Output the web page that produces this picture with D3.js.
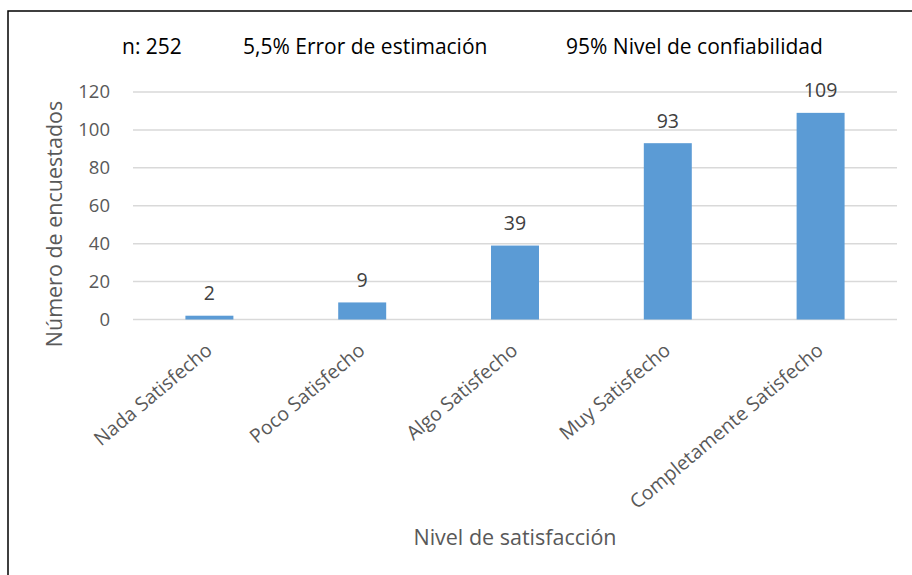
<!DOCTYPE html>
<html>
<head>
	<title>Nivel de satisfacción</title>
	<style type="text/css">
		body { margin: 0; background: #fff; }
		text { font-family: "Open Sans", sans-serif; }
	</style>
</head>
<body>
<svg id="chart"></svg>

<script src="https://cdn.jsdelivr.net/npm/d3@7"></script>
<script type="text/javascript">

	var categories = ["Nada Satisfecho", "Poco Satisfecho", "Algo Satisfecho", "Muy Satisfecho", "Completamente Satisfecho"];
	var values = [2, 9, 39, 93, 109];
	var yTicks = [0, 20, 40, 60, 80, 100, 120];
	var header = ["n: 252", "5,5% Error de estimación", "95% Nivel de confiabilidad"];
	var headerX = [122, 243, 566];

	var width = 912, height = 575;
	var margin = {top: 92, right: 15, bottom: 255, left: 133};

	var svg = d3.select("#chart")
		.attr("width", width)
		.attr("height", height);

	// chart frame (only left + top visible in the crop)
	svg.append("rect")
		.attr("x", 8).attr("y", 11)
		.attr("width", 920).attr("height", 600)
		.attr("fill", "none")
		.attr("stroke", "#000")
		.attr("stroke-width", 1.5);

	var x = d3.scaleBand()
		.domain(categories)
		.range([margin.left, width - margin.right])
		.paddingInner(0.686)
		.paddingOuter(0.343);

	var y = d3.scaleLinear()
		.domain([0, 120])
		.range([319.5, margin.top]);

	// grid
	svg.append("g").selectAll("line")
		.data(yTicks)
		.enter().append("line")
		.attr("x1", margin.left).attr("x2", width - margin.right)
		.attr("y1", d => y(d)).attr("y2", d => y(d))
		.attr("stroke", "#d9d9d9")
		.attr("stroke-width", 1.5);

	// y axis labels
	var yAxis = svg.append("g")
		.attr("transform", "translate(" + (margin.left - 23) + ",0)")
		.call(d3.axisLeft(y).tickValues(yTicks).tickSize(0).tickPadding(0));
	yAxis.select(".domain").remove();
	yAxis.selectAll("text")
		.attr("fill", "#595959")
		.style("font-size", "18.5px");

	// bars
	svg.append("g").selectAll("rect")
		.data(values)
		.enter().append("rect")
		.attr("x", (d, i) => x(categories[i]))
		.attr("width", x.bandwidth())
		.attr("y", d => y(d))
		.attr("height", d => y(0) - y(d))
		.attr("fill", "#5b9bd5");

	// value labels
	svg.append("g").selectAll("text")
		.data(values)
		.enter().append("text")
		.attr("x", (d, i) => x(categories[i]) + x.bandwidth() / 2)
		.attr("y", d => y(d) - 15.5)
		.attr("text-anchor", "middle")
		.attr("fill", "#404040")
		.style("font-size", "19.5px")
		.text(d => d);

	// x axis labels, rotated
	var xAxis = svg.append("g")
		.attr("transform", "translate(0," + y(0) + ")")
		.call(d3.axisBottom(x).tickSize(0).tickPadding(0));
	xAxis.select(".domain").remove();
	xAxis.selectAll("text")
		.attr("text-anchor", "end")
		.attr("dy", 0)
		.attr("transform", "translate(4,33) rotate(-40)")
		.attr("fill", "#595959")
		.style("font-size", "19.5px");

	// header line
	svg.append("g").selectAll("text")
		.data(header)
		.enter().append("text")
		.attr("x", (d, i) => headerX[i])
		.attr("y", 54)
		.attr("fill", "#000")
		.style("font-size", "21px")
		.text(d => d);

	// axis titles
	svg.append("text")
		.attr("transform", "translate(62,224) rotate(-90)")
		.attr("text-anchor", "middle")
		.attr("fill", "#595959")
		.style("font-size", "21.5px")
		.text("Número de encuestados");

	svg.append("text")
		.attr("x", 515)
		.attr("y", 545)
		.attr("text-anchor", "middle")
		.attr("fill", "#595959")
		.style("font-size", "21.5px")
		.text("Nivel de satisfacción");

</script>
</body>
</html>
